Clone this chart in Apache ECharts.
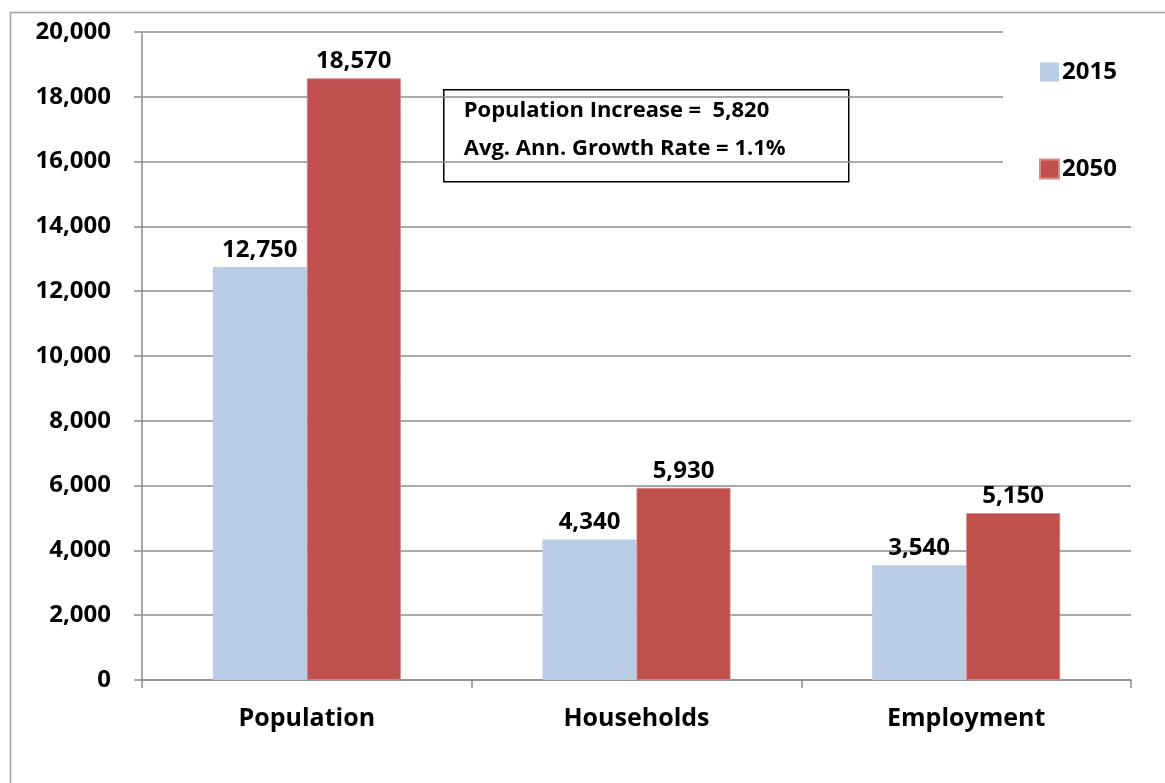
<!DOCTYPE html>
<html>
<head>
<meta charset="utf-8">
<script src="https://cdn.jsdelivr.net/npm/echarts@6/dist/echarts.min.js"></script>
<style>
html,body{margin:0;padding:0;background:#fff;}
#chart{width:1165px;height:783px;}
</style>
</head>
<body>
<div id="chart"></div>
<script>
const categories = ['Population', 'Households', 'Employment'];
const seriesNames = ['2015', '2050'];
const values2015 = [12750, 4340, 3540];
const values2050 = [18570, 5930, 5150];
const annotationLines = ['Population Increase =  5,820', 'Avg. Ann. Growth Rate = 1.1%'];

const FONT = '"Open Sans", Lato, "Liberation Sans", sans-serif';
const W = 'bold';
const fmt = v => v.toLocaleString('en-US');

const chart = echarts.init(document.getElementById('chart'), null, {renderer: 'canvas'});
const labelStyle = {
  show: true, position: 'top', distance: 5,
  fontFamily: FONT, fontWeight: W, fontSize: 24, color: '#000',
  formatter: p => fmt(p.value)
};
chart.setOption({
  animation: false,
  backgroundColor: '#fff',
  grid: {left: 142, right: 34, top: 32, bottom: 103, containLabel: false},
  legend: {
    orient: 'vertical', left: 1003, top: 28,
    backgroundColor: '#fff',
    padding: [32, 40, 38, 36],
    itemWidth: 19, itemHeight: 19, itemGap: 73,
    icon: 'rect',
    textStyle: {fontFamily: FONT, fontWeight: W, fontSize: 24, color: '#000', lineHeight: 24, padding: [0,0,0,-2]},
    data: seriesNames
  },
  xAxis: {
    type: 'category', data: categories,
    axisLine: {show: true, lineStyle: {color: '#8c8c8c', width: 1.5}},
    axisTick: {show: true, length: 8, lineStyle: {color: '#8c8c8c', width: 1.5}},
    axisLabel: {fontFamily: FONT, fontWeight: W, fontSize: 25, color: '#000', margin: 26}
  },
  yAxis: {
    type: 'value', min: 0, max: 20000, interval: 2000,
    axisLine: {show: true, lineStyle: {color: '#8c8c8c', width: 1.5}},
    axisTick: {show: true, length: 8, lineStyle: {color: '#8c8c8c', width: 1.5}},
    splitLine: {show: true, lineStyle: {color: '#8c8c8c', width: 1.5}},
    axisLabel: {fontFamily: FONT, fontWeight: W, fontSize: 24, color: '#000', margin: 31, formatter: v => fmt(v)}
  },
  series: [
    {name: seriesNames[0], type: 'bar', data: values2015, barWidth: 94, barGap: '0%',
     itemStyle: {color: '#B9CDE5'}, label: labelStyle},
    {name: seriesNames[1], type: 'bar', data: values2050, barWidth: 94, barGap: '0%',
     itemStyle: {color: '#C0504D', borderColor: '#D88A88', borderWidth: 0.8}, label: labelStyle}
  ],
  graphic: [
    {type: 'rect', left: 8, top: 10, z: 100, silent: true,
     shape: {x: 0, y: 0, width: 1200, height: 820},
     style: {fill: 'none', stroke: '#a0a0a0', lineWidth: 1.5}},
    {type: 'group', left: 443, top: 89, z: 50, children: [
      {type: 'rect', shape: {x: 0, y: 0, width: 405, height: 92},
       style: {fill: '#fff', stroke: '#000', lineWidth: 1.5}},
      {type: 'text', x: 20, y: 10,
       style: {text: annotationLines[0], fontFamily: FONT, fontWeight: W, fontSize: 22, fill: '#000'}},
      {type: 'text', x: 20, y: 48,
       style: {text: annotationLines[1], fontFamily: FONT, fontWeight: W, fontSize: 22, fill: '#000'}}
    ]}
  ]
});
</script>
</body>
</html>
